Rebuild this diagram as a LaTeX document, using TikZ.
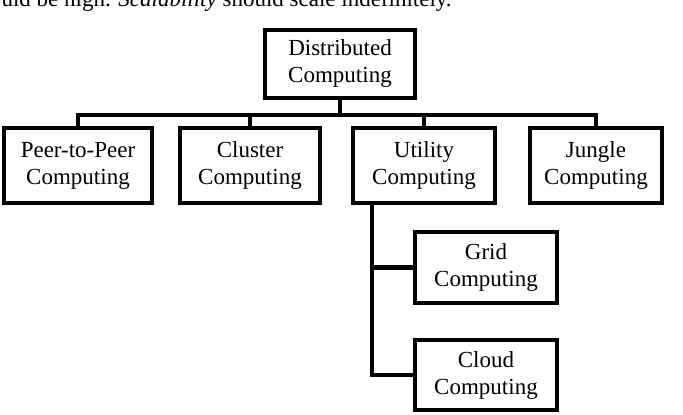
\documentclass[tikz,border=0pt]{standalone}
\usepackage{fontspec}
\setmainfont{Liberation Serif}
\begin{document}
\begin{tikzpicture}[x=1pt,y=-1pt]
\tikzstyle{box}=[rectangle, draw=black, line width=4.5pt, inner sep=0pt, align=center, font=\fontsize{23}{27}\selectfont]
\tikzstyle{link}=[line width=4.5pt]
\useasboundingbox (0,0) rectangle (683,415);
\clip (0,0) rectangle (683,415);
\node[anchor=base west, font=\fontsize{23}{27}\selectfont] (top) at (-2,6) {uld be high. \textit{Scalability} should scale indefinitely.};

\node[box, minimum width=150pt, minimum height=68pt] (dist) at (340,64) {Distributed\\Computing};
\node[box, minimum width=148pt, minimum height=75pt] (peer) at (78,165.5) {Peer-to-Peer\\Computing};
\node[box, minimum width=140pt, minimum height=75pt] (clus) at (250,165.5) {Cluster\\Computing};
\node[box, minimum width=142pt, minimum height=75pt] (util) at (424,165.5) {Utility\\Computing};
\node[box, minimum width=132pt, minimum height=75pt] (jung) at (596,165.5) {Jungle\\Computing};
\node[box, minimum width=142pt, minimum height=71pt] (grid) at (486,267.5) {Grid\\Computing};
\node[box, minimum width=142pt, minimum height=70pt] (cloud) at (486,375) {Cloud\\Computing};

\coordinate (bus) at (340,115);
\draw[link] (dist.south) -- (bus);
\draw[link] (peer.north) |- (bus) -| (jung.north);
\draw[link] (clus.north) -- (clus.north |- bus);
\draw[link] (util.north) -- (util.north |- bus);
\coordinate (trunk) at (372,203);
\draw[link] (trunk) |- (cloud.west);
\draw[link] (trunk |- grid.west) -- (grid.west);
\end{tikzpicture}
\end{document}
